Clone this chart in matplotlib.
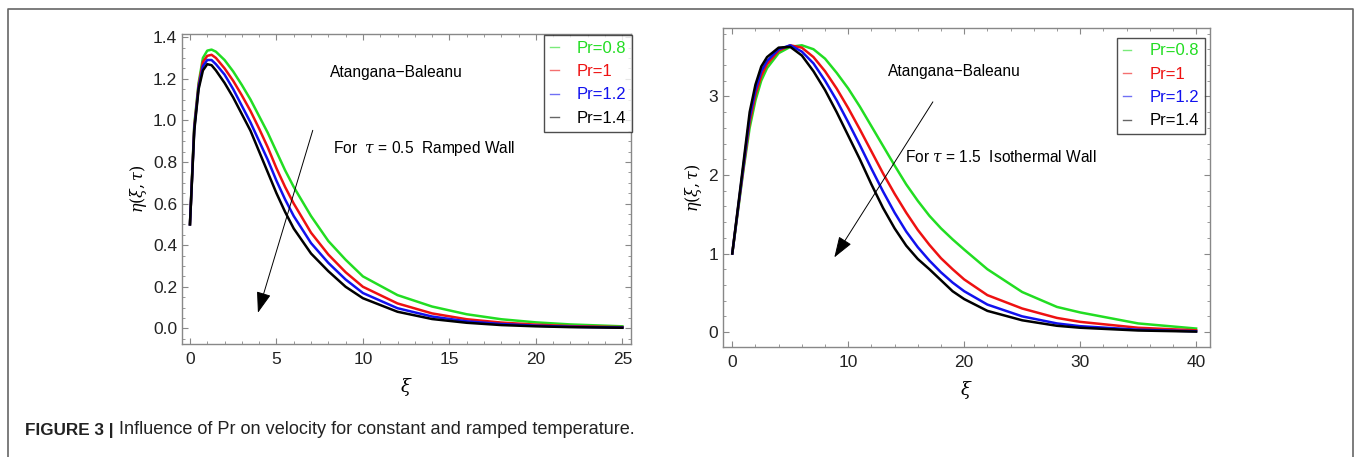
import matplotlib
matplotlib.use("Agg")
import matplotlib.pyplot as plt
from matplotlib.lines import Line2D
from matplotlib.ticker import MultipleLocator

plt.rcParams['font.family'] = ['Liberation Sans', 'DejaVu Sans']
plt.rcParams['mathtext.fontset'] = 'dejavuserif'

labels = ["Pr=0.8", "Pr=1", "Pr=1.2", "Pr=1.4"]
colors = ["#22dd22", "#ee1111", "#1111ee", "#000000"]

# Left panel: tau = 0.5, ramped wall
xi_left = [0, 0.25, 0.5, 0.75, 1, 1.25, 1.5, 2, 2.5, 3, 3.5, 4, 4.5, 5, 5.5, 6, 7, 8, 9, 10,
           12, 14, 16, 18, 20, 22, 25]
eta_left = {
    "Pr=0.8": [0.5, 0.98, 1.18, 1.30, 1.335, 1.34, 1.33, 1.29, 1.235, 1.17, 1.10, 1.02, 0.94,
               0.85, 0.76, 0.68, 0.54, 0.42, 0.33, 0.25, 0.16, 0.105, 0.068, 0.044, 0.029,
               0.019, 0.010],
    "Pr=1":   [0.5, 0.97, 1.17, 1.28, 1.31, 1.315, 1.30, 1.25, 1.19, 1.12, 1.045, 0.96, 0.87,
               0.77, 0.68, 0.60, 0.46, 0.355, 0.27, 0.20, 0.12, 0.072, 0.044, 0.028, 0.018,
               0.011, 0.006],
    "Pr=1.2": [0.5, 0.96, 1.16, 1.26, 1.29, 1.29, 1.27, 1.22, 1.15, 1.07, 0.99, 0.90, 0.81,
               0.71, 0.62, 0.54, 0.41, 0.315, 0.235, 0.17, 0.097, 0.057, 0.034, 0.021, 0.013,
               0.008, 0.004],
    "Pr=1.4": [0.5, 0.95, 1.15, 1.24, 1.27, 1.265, 1.24, 1.18, 1.11, 1.03, 0.95, 0.85, 0.75,
               0.65, 0.56, 0.48, 0.36, 0.275, 0.20, 0.145, 0.08, 0.045, 0.027, 0.016, 0.010,
               0.006, 0.003],
}

# Right panel: tau = 1.5, isothermal wall
xi_right = [0, 0.5, 1, 1.5, 2, 2.5, 3, 4, 5, 6, 7, 8, 9, 10, 11, 12, 13, 14, 15, 16, 17, 18,
            19, 20, 22, 25, 28, 30, 35, 40]
eta_right = {
    "Pr=0.8": [1.0, 1.55, 2.10, 2.60, 2.95, 3.20, 3.36, 3.55, 3.63, 3.65, 3.60, 3.48, 3.30,
               3.10, 2.87, 2.62, 2.37, 2.12, 1.88, 1.67, 1.48, 1.32, 1.18, 1.05, 0.80, 0.51,
               0.32, 0.25, 0.11, 0.045],
    "Pr=1":   [1.0, 1.57, 2.13, 2.67, 3.02, 3.26, 3.41, 3.58, 3.65, 3.62, 3.50, 3.32, 3.10,
               2.85, 2.58, 2.30, 2.02, 1.76, 1.52, 1.30, 1.11, 0.94, 0.80, 0.67, 0.47, 0.30,
               0.18, 0.13, 0.055, 0.022],
    "Pr=1.2": [1.0, 1.58, 2.16, 2.73, 3.08, 3.32, 3.45, 3.60, 3.65, 3.57, 3.42, 3.20, 2.95,
               2.67, 2.38, 2.08, 1.79, 1.52, 1.28, 1.08, 0.91, 0.76, 0.63, 0.52, 0.35, 0.20,
               0.11, 0.075, 0.03, 0.01],
    "Pr=1.4": [1.0, 1.60, 2.20, 2.80, 3.15, 3.38, 3.50, 3.62, 3.63, 3.52, 3.32, 3.08, 2.80,
               2.50, 2.20, 1.88, 1.58, 1.32, 1.10, 0.93, 0.80, 0.66, 0.52, 0.42, 0.27, 0.15,
               0.08, 0.055, 0.02, 0.006],
}

fig = plt.figure(figsize=(13.56, 4.57), dpi=100)
W, H = 1356, 457

def add_ax(l, r, t, b):
    return fig.add_axes([l / W, 1 - b / H, (r - l) / W, (b - t) / H])

axL = add_ax(182, 631, 34, 344)
axR = add_ax(723, 1210, 28, 347)

spine_col = "#888888"

def style(ax):
    for s in ax.spines.values():
        s.set_color(spine_col)
        s.set_linewidth(1.0)
    ax.tick_params(which='both', direction='in', top=True, right=True,
                   color=spine_col, labelsize=12.5, labelcolor='#222222')
    ax.tick_params(which='major', length=4)
    ax.tick_params(which='minor', length=2)
    ax.tick_params(axis='x', pad=6)

for lab, c in zip(labels, colors):
    axL.plot(xi_left, eta_left[lab], color=c, lw=1.8, label=lab)
    axR.plot(xi_right, eta_right[lab], color=c, lw=1.8, label=lab)

axL.set_xlim(-0.46, 25.5)
axL.set_ylim(-0.075, 1.415)
axL.xaxis.set_major_locator(MultipleLocator(5))
axL.xaxis.set_minor_locator(MultipleLocator(1))
axL.yaxis.set_major_locator(MultipleLocator(0.2))
axL.yaxis.set_minor_locator(MultipleLocator(0.05))
axL.yaxis.set_major_formatter(plt.FuncFormatter(lambda v, p: f"{v:.1f}"))

axR.set_xlim(-0.8, 41.2)
axR.set_ylim(-0.19, 3.87)
axR.xaxis.set_major_locator(MultipleLocator(10))
axR.xaxis.set_minor_locator(MultipleLocator(2))
axR.yaxis.set_major_locator(MultipleLocator(1))
axR.yaxis.set_minor_locator(MultipleLocator(0.2))

for ax in (axL, axR):
    style(ax)
    ax.set_xlabel(r"$\xi$", fontsize=13, labelpad=6)
    ax.set_ylabel(r"$\eta(\xi,\tau)$", fontsize=11.5, labelpad=3)

# legends
for ax, anchor in ((axL, (1.003, 0.997)), (axR, (0.99, 0.97))):
    leg = ax.legend(loc='upper right', bbox_to_anchor=anchor, handlelength=0.5,
                    handletextpad=1.1, fontsize=12, frameon=True, fancybox=False,
                    borderpad=0.35, labelspacing=0.5, borderaxespad=0.0)
    leg.get_frame().set_edgecolor('#222222')
    leg.get_frame().set_linewidth(1.0)
    for txt, c in zip(leg.get_texts(), colors):
        txt.set_color(c)
    for h in leg.get_lines():
        h.set_linewidth(1.0)
        h.set_alpha(0.6)

# annotations
axL.text(8.1, 1.23, "Atangana\u2212Baleanu", fontsize=11.2, va='center', ha='left')
axL.text(8.25, 0.866, r"For  $\tau$ = 0.5  Ramped Wall", fontsize=11.2, va='center', ha='left')
axL.annotate("", xy=(3.93, 0.075), xytext=(7.1, 0.952),
             arrowprops=dict(arrowstyle='-|>,head_length=1.3,head_width=0.45',
                             color='black', lw=0.7, shrinkA=0, shrinkB=0))

axR.text(13.4, 3.32, "Atangana\u2212Baleanu", fontsize=11.2, va='center', ha='left')
axR.text(14.9, 2.24, r"For $\tau$ = 1.5  Isothermal Wall", fontsize=11.2, va='center', ha='left')
axR.annotate("", xy=(8.8, 0.95), xytext=(17.3, 2.93),
             arrowprops=dict(arrowstyle='-|>,head_length=1.3,head_width=0.45',
                             color='black', lw=0.7, shrinkA=0, shrinkB=0))

# outer frame (top, left, right)
fig.add_artist(Line2D([8 / W, 8 / W, 1353 / W, 1353 / W],
                      [0, 1 - 9 / H, 1 - 9 / H, 0],
                      transform=fig.transFigure, color='#666666', lw=1.2))

# caption
fig.text(25 / W, 1 - 430 / H, "FIGURE 3 |", fontsize=12.3, fontweight='bold',
         va='center', ha='left', color='#222222')
fig.text(119 / W, 1 - 430 / H,
         "Influence of Pr on velocity for constant and ramped temperature.",
         fontsize=13.1, va='center', ha='left', color='#222222')

fig.savefig("out.png", dpi=100)
